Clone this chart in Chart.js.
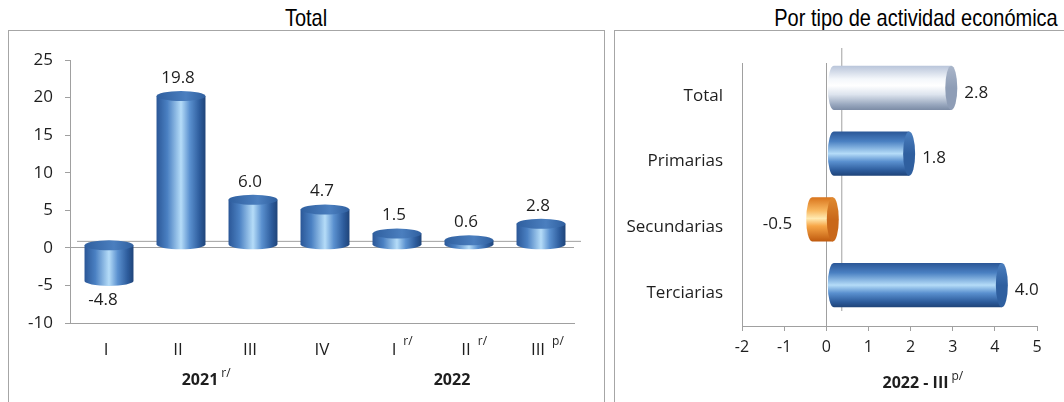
<!DOCTYPE html>
<html>
<head>
<meta charset="utf-8">
<script src="https://cdn.jsdelivr.net/npm/chart.js@4.4.0/dist/chart.umd.min.js"></script>
<style>
  body { margin: 0; width: 1064px; height: 402px; overflow: hidden; background: #fff; position: relative; }
  .title { position: absolute; font-family: "Liberation Sans", Arial, sans-serif; font-size: 20px; color: #000;
           text-align: center; white-space: nowrap; transform: scaleY(1.2); line-height: 20px; }
  .panel { position: absolute; border: 1px solid #a6a6a6; }
  canvas { position: absolute; }
</style>
</head>
<body>
<div class="title" style="left:206px; width:200px; top:8px;">Total</div>
<div class="title" style="left:716px; width:400px; top:8px;">Por tipo de actividad económica</div>
<div class="panel" style="left:8px; top:30px; width:595px; height:400px;"></div>
<div class="panel" style="left:614px; top:30px; width:460px; height:400px;"></div>
<canvas id="quarterChart" width="594" height="371" style="left:9px; top:31px;"></canvas>
<canvas id="sectorChart" width="449" height="371" style="left:615px; top:31px;"></canvas>
<script>
// --- data ---
const quarterLabels = ['I', 'II', 'III', 'IV', 'I', 'II', 'III'];
const quarterMarks = ['', '', '', '', 'r/', 'r/', 'p/'];
const quarterValues = [-4.8, 19.8, 6.0, 4.7, 1.5, 0.6, 2.8];
const yearLabels = ['2021', '2022'];
const yearMarks = ['r/', ''];
const yearFirst = [0, 4];
const yearLast = [3, 6];

const sectorLabels = ['Total', 'Primarias', 'Secundarias', 'Terciarias'];
const sectorValues = [2.8, 1.8, -0.5, 4.0];
const sectorTitle = '2022 - III';
const sectorTitleMark = 'p/';

const quarterTicks = { min: -10, max: 25, step: 5 };
const sectorTicks = { min: -2, max: 5, step: 1 };

// styles
const sectorTones = ['silver', 'blue', 'orange', 'blue'];
const FONT = '"Open Sans", sans-serif';
const TEXT = '#1e1e1e';
const AXIS = '#a0a0a0';

const tones = {
  blue: {
    body: [[0, '#2b5797'], [0.22, '#4a80c2'], [0.5, '#b5dcf8'], [0.68, '#5a90cf'], [0.88, '#2d5c9c'], [1, '#1f4479']],
    cap: ['#2f5f9f', '#4b7fbf']
  },
  silver: {
    body: [[0, '#b9c5da'], [0.3, '#f4f7fb'], [0.45, '#ffffff'], [0.65, '#dde4ee'], [0.88, '#98a7be'], [1, '#7c8ca6']],
    cap: ['#8e9db6', '#aab6ca']
  },
  orange: {
    body: [[0, '#d9741c'], [0.3, '#f8b860'], [0.48, '#ffeab2'], [0.65, '#f7a647'], [1, '#bf5a0e']],
    cap: ['#c9681a', '#e08a30']
  }
};

function makeGradient(ctx, x0, y0, x1, y1, stops) {
  const g = ctx.createLinearGradient(x0, y0, x1, y1);
  stops.forEach(s => g.addColorStop(s[0], s[1]));
  return g;
}

// upright cylinders for the quarterly chart
const columnPlugin = {
  id: 'columns',
  beforeDatasetsDraw(chart) {
    const { ctx, chartArea, scales } = chart;
    const y0 = scales.y.getPixelForValue(0) - 7;
    ctx.save();
    ctx.strokeStyle = AXIS;
    ctx.lineWidth = 1;
    ctx.beginPath();
    ctx.moveTo(chartArea.left + 7, y0 + 0.5);
    ctx.lineTo(chartArea.right + 7, y0 + 0.5);
    ctx.stroke();
    ctx.restore();
  },
  afterDatasetsDraw(chart) {
    const { ctx, scales, chartArea } = chart;
    const meta = chart.getDatasetMeta(0);
    const dx = 3, dy = -3, ry = 5;
    ctx.save();
    meta.data.forEach((el, i) => {
      const hw = el.width / 2;
      const cx = el.x + dx;
      const top = Math.min(el.y, el.base) + dy;
      const bot = Math.max(el.y, el.base) + dy;
      ctx.beginPath();
      ctx.moveTo(cx - hw, top);
      ctx.lineTo(cx - hw, bot);
      ctx.ellipse(cx, bot, hw, ry, 0, Math.PI, 0, true);
      ctx.lineTo(cx + hw, top);
      ctx.closePath();
      ctx.fillStyle = makeGradient(ctx, cx - hw, 0, cx + hw, 0, tones.blue.body);
      ctx.fill();
      ctx.beginPath();
      ctx.ellipse(cx, top, hw, ry, 0, 0, Math.PI * 2);
      ctx.fillStyle = makeGradient(ctx, cx - hw, 0, cx + hw, 0, [[0, tones.blue.cap[0]], [0.6, tones.blue.cap[1]], [1, tones.blue.cap[0]]]);
      ctx.fill();

      // value label
      const v = quarterValues[i];
      ctx.fillStyle = TEXT;
      ctx.font = '17px ' + FONT;
      ctx.textAlign = 'center';
      ctx.textBaseline = 'middle';
      if (v >= 0) ctx.fillText(v.toFixed(1), el.x, el.y - 21);
      else ctx.fillText(v.toFixed(1), el.x - 3, el.y + 16);
    });

    // category labels with superscripts, below the axis line
    const xs = scales.x;
    const base = chartArea.bottom;
    quarterLabels.forEach((lab, i) => {
      const x = xs.getPixelForValue(i);
      ctx.font = '17px ' + FONT;
      ctx.textAlign = 'center';
      ctx.fillText(lab, x, base + 27);
      if (quarterMarks[i]) {
        const w = ctx.measureText(lab).width;
        ctx.font = '12px ' + FONT;
        ctx.textAlign = 'left';
        ctx.fillText(quarterMarks[i], x + w / 2 + 7, base + 19);
      }
    });
    yearLabels.forEach((lab, i) => {
      const x = (xs.getPixelForValue(yearFirst[i]) + xs.getPixelForValue(yearLast[i])) / 2 - 14;
      ctx.font = 'bold 16px ' + FONT;
      ctx.textAlign = 'center';
      ctx.fillText(lab, x, base + 57);
      if (yearMarks[i]) {
        const w = ctx.measureText(lab).width;
        ctx.font = '12px ' + FONT;
        ctx.textAlign = 'left';
        ctx.fillText(yearMarks[i], x + w / 2 + 3, base + 51);
      }
    });
    ctx.restore();
  }
};

// lying cylinders for the sector chart
const barPlugin = {
  id: 'lyingBars',
  beforeDatasetsDraw(chart) {
    const { ctx, chartArea, scales } = chart;
    const x0 = scales.x.getPixelForValue(0) + 15;
    ctx.save();
    ctx.strokeStyle = AXIS;
    ctx.lineWidth = 1;
    ctx.beginPath();
    ctx.moveTo(x0 + 0.5, chartArea.top - 15);
    ctx.lineTo(x0 + 0.5, chartArea.bottom - 15);
    ctx.stroke();
    ctx.restore();
  },
  afterDatasetsDraw(chart) {
    const { ctx, chartArea } = chart;
    const meta = chart.getDatasetMeta(0);
    const dx = 7, dy = -8, rx = 6;
    ctx.save();
    meta.data.forEach((el, i) => {
      const tone = tones[sectorTones[i]];
      const hh = el.height / 2;
      const cy = el.y + dy;
      const left = Math.min(el.x, el.base) + dx;
      const right = Math.max(el.x, el.base) + dx;
      ctx.beginPath();
      ctx.moveTo(left, cy - hh);
      ctx.lineTo(right, cy - hh);
      ctx.lineTo(right, cy + hh);
      ctx.lineTo(left, cy + hh);
      ctx.ellipse(left, cy, rx, hh, 0, Math.PI / 2, Math.PI * 1.5, false);
      ctx.closePath();
      ctx.fillStyle = makeGradient(ctx, 0, cy - hh, 0, cy + hh, tone.body);
      ctx.fill();
      ctx.beginPath();
      ctx.ellipse(right, cy, rx, hh, 0, 0, Math.PI * 2);
      ctx.fillStyle = makeGradient(ctx, 0, cy - hh, 0, cy + hh, [[0, tone.cap[1]], [0.5, tone.cap[0]], [1, tone.cap[0]]]);
      ctx.fill();

      const v = sectorValues[i];
      ctx.fillStyle = TEXT;
      ctx.font = '17px ' + FONT;
      ctx.textBaseline = 'middle';
      if (v >= 0) { ctx.textAlign = 'left'; ctx.fillText(v.toFixed(1), el.x + 20, el.y - 3); }
      else { ctx.textAlign = 'right'; ctx.fillText(v.toFixed(1), el.x - 13, el.y - 3); }
    });

    // axis title with superscript
    const cx = (chartArea.left + chartArea.right) / 2 + 26;
    ctx.font = 'bold 16px ' + FONT;
    ctx.textAlign = 'center';
    ctx.fillText(sectorTitle, cx, 352);
    const w = ctx.measureText(sectorTitle).width;
    ctx.font = '12px ' + FONT;
    ctx.textAlign = 'left';
    ctx.fillText(sectorTitleMark, cx + w / 2 + 3, 346);
    ctx.restore();
  }
};

new Chart(document.getElementById('quarterChart'), {
  type: 'bar',
  data: {
    labels: quarterLabels,
    datasets: [{
      data: quarterValues,
      backgroundColor: 'rgba(0,0,0,0)',
      categoryPercentage: 1,
      barPercentage: 0.68
    }]
  },
  options: {
    responsive: false,
    animation: false,
    layout: { padding: { left: 0, right: 29, top: 29, bottom: 0 } },
    plugins: { legend: { display: false }, tooltip: { enabled: false } },
    scales: {
      x: {
        grid: { display: false, drawTicks: false },
        border: { color: AXIS },
        ticks: { display: false },
        afterFit(scale) { scale.height = 79; }
      },
      y: {
        min: quarterTicks.min,
        max: quarterTicks.max,
        ticks: { stepSize: quarterTicks.step, color: TEXT, font: { family: FONT, size: 17 }, padding: 12 },
        grid: {
          color: c => (c.tick && c.tick.value === 0 ? AXIS : 'rgba(0,0,0,0)'),
          tickColor: AXIS,
          tickLength: 5
        },
        border: { color: AXIS },
        afterFit(scale) { scale.width = 61; }
      }
    }
  },
  plugins: [columnPlugin]
});

new Chart(document.getElementById('sectorChart'), {
  type: 'bar',
  data: {
    labels: sectorLabels,
    datasets: [{
      data: sectorValues,
      backgroundColor: 'rgba(0,0,0,0)',
      categoryPercentage: 1,
      barPercentage: 0.67
    }]
  },
  options: {
    indexAxis: 'y',
    responsive: false,
    animation: false,
    layout: { padding: { left: 0, right: 27, top: 32, bottom: 0 } },
    plugins: { legend: { display: false }, tooltip: { enabled: false } },
    scales: {
      x: {
        min: sectorTicks.min,
        max: sectorTicks.max,
        ticks: { stepSize: sectorTicks.step, color: TEXT, font: { family: FONT, size: 16 }, padding: 7 },
        grid: {
          color: c => (c.tick && c.tick.value === 0 ? AXIS : 'rgba(0,0,0,0)'),
          tickColor: AXIS,
          tickLength: 5
        },
        border: { color: AXIS },
        afterFit(scale) { scale.height = 76; }
      },
      y: {
        grid: { display: false, drawTicks: false },
        border: { color: AXIS },
        ticks: { color: TEXT, font: { family: FONT, size: 17 }, padding: 19 },
        afterFit(scale) { scale.width = 127; }
      }
    }
  },
  plugins: [barPlugin]
});
</script>
</body>
</html>
